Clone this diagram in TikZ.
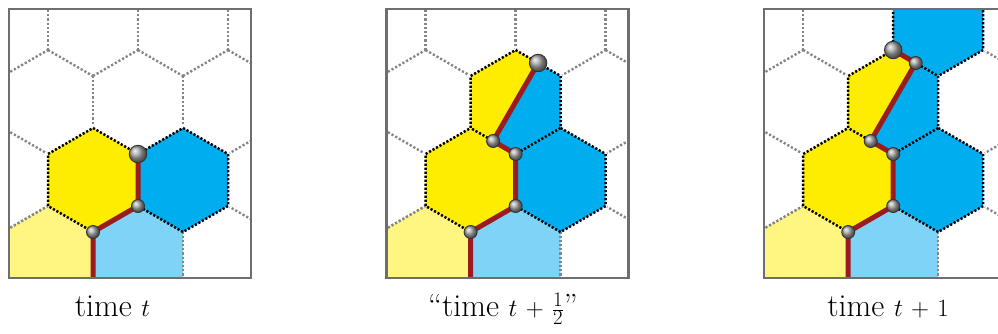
\documentclass[tikz,border=0pt]{standalone}
\usepackage{tikz}
\definecolor{hY}{HTML}{FFED00}
\definecolor{hB}{HTML}{00AEEF}
\definecolor{hLY}{HTML}{FFF581}
\definecolor{hLB}{HTML}{7FD3F7}
\definecolor{hR}{HTML}{9B1B1F}
\definecolor{hF}{HTML}{6D6E71}
\definecolor{hG}{HTML}{858585}
\newcommand{\hexat}[2]{(#1,#2-52) -- (#1+45,#2-26) -- (#1+45,#2+26) -- (#1,#2+52) -- (#1-45,#2+26) -- (#1-45,#2-26) -- cycle}
\newcommand{\gridpart}{%
  \foreach \cy/\off in {24/0,102/1,180/0,258/1}{%
    \foreach \i in {0,1,2,3}{%
      \pgfmathsetmacro{\cx}{3+45*\off+90*\i}%
      \draw[gridedge] (\cx-45,\cy+26) -- (\cx-45,\cy-26);
      \draw[gridedge] (\cx-45,\cy-26) -- (\cx,\cy-52);
      \draw[gridedge] (\cx,\cy-52) -- (\cx+45,\cy-26);
    }}}
\newcommand{\regray}{%
  \draw[gridedge] (3,232) -- (48,206);
  \draw[gridedge] (183,284) -- (183,232);}
\newcommand{\lightfills}{%
  \fill[hLY] \hexat{48}{258};
  \fill[hLB] \hexat{138}{258};}
% edge paths
\newcommand{\pYfull}{(93,128) -- (138,154) -- (138,206) -- (93,232) -- (48,206) -- (48,154) -- cycle}
\newcommand{\pBrest}{(138,154) -- (183,128) -- (228,154) -- (228,206) -- (183,232) -- (138,206)}
\newcommand{\pSfull}{(138,50) -- (183,76) -- (183,128) -- (138,154) -- (93,128) -- (93,76) -- cycle}
\newcommand{\pYrest}{(138,154) -- (138,206) -- (93,232) -- (48,206) -- (48,154) -- (93,128)}
\newcommand{\pBrestb}{(183,128) -- (228,154) -- (228,206) -- (183,232) -- (138,206)}
\newcommand{\pTrest}{(138,50) -- (138,-2) -- (183,-28) -- (228,-2) -- (228,50) -- (183,76)}
\newcommand{\splitfills}{%
  \fill[hY] (93,76) -- (138,50) -- (160.5,63) -- (115.5,141) -- (93,128) -- cycle;
  \fill[hB] (160.5,63) -- (183,76) -- (183,128) -- (138,154) -- (115.5,141) -- cycle;}
\newcommand{\capfont}{\fontsize{32}{38}\selectfont\medmuskip=6mu\relax}
\begin{document}
\begin{tikzpicture}[x=1pt,y=-1pt,
  gridedge/.style={draw=hG, line width=2.4pt, dash pattern=on 2.2pt off 2pt},
  blackedge/.style={draw=black, line width=2.5pt, dash pattern=on 2.2pt off 1.8pt},
  eraseedge/.style={draw=white, line width=3.6pt},
  redpath/.style={draw=hR, line width=5pt, line join=round},
  smallball/.style={circle, inner sep=0pt, minimum size=13pt, shade, shading=ball, ball color=black!35, draw=black!80, line width=0.9pt},
  bigball/.style={smallball, minimum size=17.5pt},
  framebox/.style={draw=hF, line width=2.5pt},
  captext/.style={anchor=base, inner sep=0pt, font=\capfont}]
\useasboundingbox (0,0) rectangle (998,333);

% ---------------- Panel 1 ----------------
\begin{scope}
  \begin{scope}
    \clip (9,9) rectangle (251,278);
    \gridpart
    \draw[eraseedge] \pYfull;
    \draw[eraseedge] \pBrest;
    \lightfills
    \fill[hY] \hexat{93}{180};
    \fill[hB] \hexat{183}{180};
    \regray
    \draw[blackedge] \pYfull;
    \draw[blackedge] \pBrest;
  \end{scope}
  \coordinate (a1) at (138,154);
  \coordinate (a2) at (138,206);
  \coordinate (a3) at (93,232);
  \coordinate (a4) at (93,278);
  \draw[redpath] (a1) -- (a2) -- (a3) -- (a4);
  \node[bigball] (ba1) at (a1) {};
  \node[smallball] (ba2) at (a2) {};
  \node[smallball] (ba3) at (a3) {};
  \draw[framebox] (9,9) rectangle (251,278);
\end{scope}

% ---------------- Panel 2 ----------------
\begin{scope}[shift={(377.6,0)}]
  \begin{scope}
    \clip (9,9) rectangle (251,278);
    \gridpart
    \draw[eraseedge] \pSfull;
    \draw[eraseedge] \pYrest;
    \draw[eraseedge] \pBrestb;
    \lightfills
    \fill[hY] \hexat{93}{180};
    \fill[hB] \hexat{183}{180};
    \splitfills
    \regray
    \draw[blackedge] \pSfull;
    \draw[blackedge] \pYrest;
    \draw[blackedge] \pBrestb;
  \end{scope}
  \coordinate (b1) at (160.5,63);
  \coordinate (b2) at (115.5,141);
  \coordinate (b3) at (138,154);
  \coordinate (b4) at (138,206);
  \coordinate (b5) at (93,232);
  \coordinate (b6) at (93,278);
  \draw[redpath] (b1) -- (b2) -- (b3) -- (b4) -- (b5) -- (b6);
  \node[bigball] (bb1) at (b1) {};
  \node[smallball] (bb2) at (b2) {};
  \node[smallball] (bb3) at (b3) {};
  \node[smallball] (bb4) at (b4) {};
  \node[smallball] (bb5) at (b5) {};
  \draw[framebox] (9,9) rectangle (251,278);
\end{scope}

% ---------------- Panel 3 ----------------
\begin{scope}[shift={(755.2,0)}]
  \begin{scope}
    \clip (9,9) rectangle (251,278);
    \gridpart
    \draw[eraseedge] \pSfull;
    \draw[eraseedge] \pYrest;
    \draw[eraseedge] \pBrestb;
    \draw[eraseedge] \pTrest;
    \lightfills
    \fill[hY] \hexat{93}{180};
    \fill[hB] \hexat{183}{180};
    \fill[hB] \hexat{183}{24};
    \splitfills
    \regray
    \draw[blackedge] \pSfull;
    \draw[blackedge] \pYrest;
    \draw[blackedge] \pBrestb;
    \draw[blackedge] \pTrest;
  \end{scope}
  \coordinate (c0) at (138,50);
  \coordinate (c1) at (160.5,63);
  \coordinate (c2) at (115.5,141);
  \coordinate (c3) at (138,154);
  \coordinate (c4) at (138,206);
  \coordinate (c5) at (93,232);
  \coordinate (c6) at (93,278);
  \draw[redpath] (c0) -- (c1) -- (c2) -- (c3) -- (c4) -- (c5) -- (c6);
  \node[bigball] (bc0) at (c0) {};
  \node[smallball] (bc1) at (c1) {};
  \node[smallball] (bc2) at (c2) {};
  \node[smallball] (bc3) at (c3) {};
  \node[smallball] (bc4) at (c4) {};
  \node[smallball] (bc5) at (c5) {};
  \draw[framebox] (9,9) rectangle (251,278);
\end{scope}

% ---------------- Captions ----------------
\node[captext] (cap1) at (112.5,316) {time $t$};
\node[captext] (cap2) at (503,316) {``time $t+\frac{1}{2}$''};
\node[captext] (cap3) at (888,316) {time $t+1$};
\end{tikzpicture}
\end{document}
